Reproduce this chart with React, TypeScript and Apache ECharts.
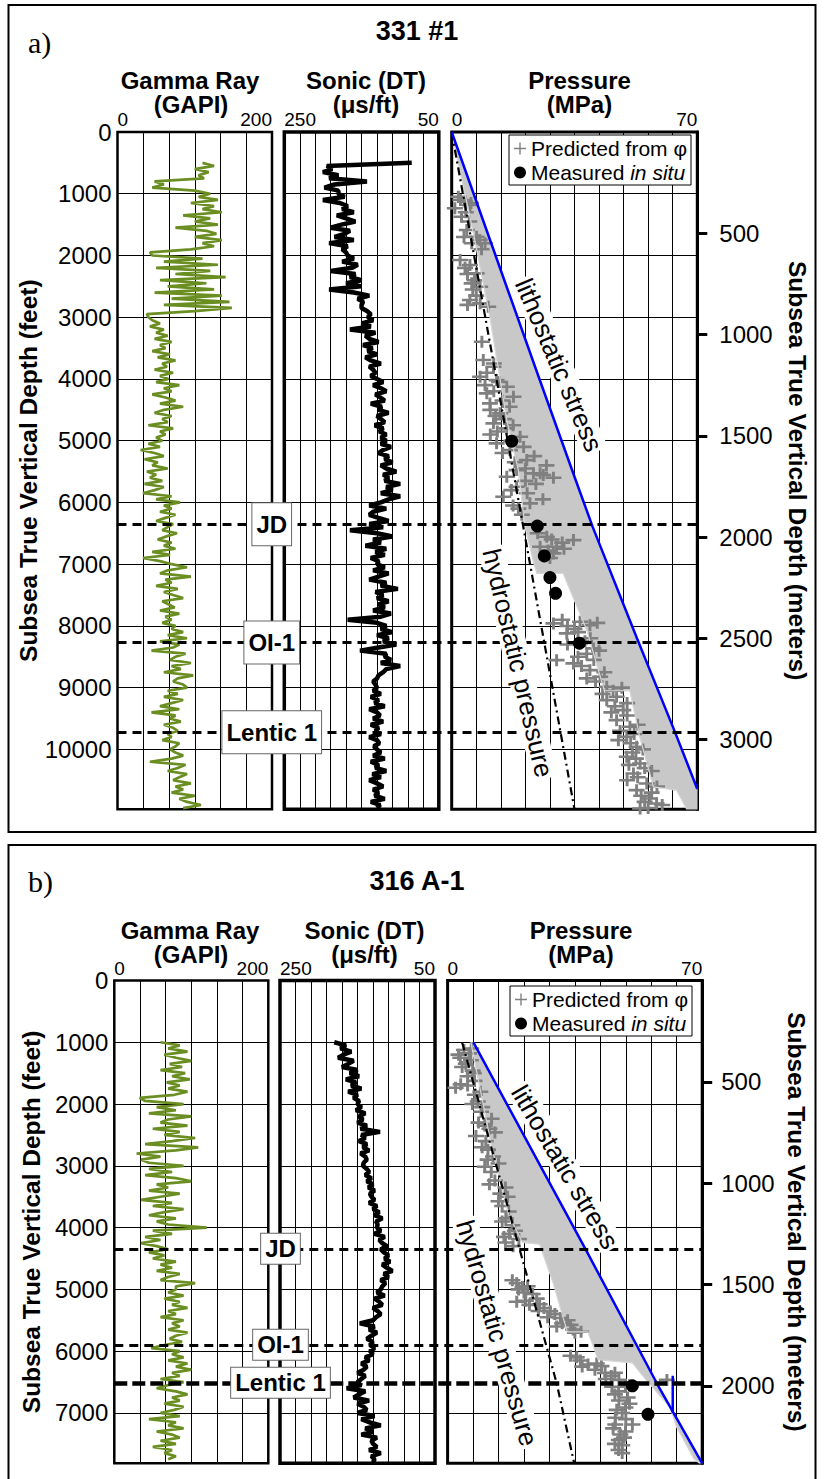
import React, { useEffect, useRef } from "react";
import * as echarts from "echarts";

const FONT = '"Liberation Sans", Arial, Helvetica, sans-serif';
const SERIF = '"Liberation Serif", "Times New Roman", serif';

// ---------------- shared axis values ----------------
const GAMMA_RANGE = [0, 200];
const SONIC_RANGE = [50, 250];
const PRESSURE_RANGE = [0, 70];
const SONIC_GRID = [50, 70, 90, 110, 130, 150, 170, 190, 210, 230, 250];
const FORMATIONS = ["JD", "OI-1", "Lentic 1"];
const PRED_NAME = "Predicted from φ";
const MEAS_NAME = "Measured in situ";
const FT_PER_M = 3.28084;
const LOG_STEP = 50;

// ---------------- well a) 331 #1 ----------------
const A_TITLE = "331 #1";
const A_MAX_DEPTH = 10970;
const A_METER_TICKS = [500, 1000, 1500, 2000, 2500, 3000];
const A_GAMMA_START = 500;
const A_GAMMA = [
  110, 125, 100, 118, 105, 112,
  48, 60, 45, 100,
  120, 105, 130, 95, 125, 110, 135, 85, 120, 100, 130, 75, 115, 128, 100, 135, 110, 125, 95,
  42, 45,
  110, 60, 130, 50, 120, 75, 140, 55, 115, 65,
  125, 48, 135, 70, 145, 60, 148, 100,
  38,
  40, 45, 55, 42, 60, 50, 65, 48, 70, 55, 62, 45, 68, 52, 75, 58, 64, 48, 72, 55,
  66, 50, 80, 60, 70, 45, 62, 75, 55, 85, 60, 48, 70, 58, 65, 40, 72, 55, 62, 50, 58,
  40, 55, 30, 48, 60, 35, 52, 45, 65, 38, 50, 42, 58, 35, 60, 48,
  33, 70, 50, 81,
  60, 70, 55, 75, 62, 50, 72, 65, 58, 77, 63, 52, 70, 60, 75, 45, 68, 33, 55, 70,
  90, 65, 55, 95, 62, 70, 50, 78, 60, 72, 85, 58, 66, 74, 55, 80, 62, 70, 58, 75,
  70, 85, 65, 90, 55, 80, 72, 44, 88, 75, 68, 95, 70, 82, 60, 98, 78, 72, 85, 90,
  65, 78, 60, 85, 70, 55, 80, 44, 75, 68, 82, 60, 72, 78, 65, 70, 58, 80, 75, 68,
  75, 85, 70, 42, 88, 78, 65, 90, 80, 72, 95, 75, 85, 70, 100, 80, 90, 108, 85,
];
const A_SONIC_START = 500;
const A_SONIC = [
  85, 195, 188, 200, 180, 192, 143, 185, 198, 180,
  180, 172, 200, 178, 168, 175, 160, 182, 170, 158, 176, 190, 165, 172, 185, 160, 192, 168, 175, 170,
  168, 160, 175, 155, 162, 190, 158, 165, 150, 170,
  150, 192, 160, 140, 155, 148, 150, 150, 143, 138,
  142, 135, 150, 138, 165, 132, 145, 140, 128, 148, 136, 142, 130, 145, 138, 125, 140, 135, 132, 138,
  130, 122, 135, 125, 118, 132, 126, 120, 138, 124, 128, 115, 130, 125, 120, 133, 122, 127, 118, 125,
  118, 125, 112, 122, 128, 115, 120, 110, 125, 118, 105, 122, 115, 120, 100, 118,
  110, 125, 100, 115,
  125, 140, 118, 135, 140, 128, 115, 140, 122, 165, 130, 110, 135, 125, 145, 118, 132, 120, 138, 128,
  130, 120, 135, 115, 128, 140, 118, 125, 103, 132, 122, 130, 115, 128, 120, 135, 112, 125, 168, 130,
  118, 125, 110, 130, 115, 122, 105, 128, 152, 118, 120, 112, 125, 100, 118, 122, 128, 130, 135, 132,
  130, 135, 125, 138, 128, 133, 120, 140, 130, 126, 135, 122, 138, 128, 132, 125, 140, 130, 127, 134,
  130, 125, 135, 120, 138, 128, 132, 118, 136, 125, 140, 130, 122, 135, 128, 133, 120, 138, 126, 130,
];
// [depth ft, MPa]
const A_LITHO = [[0, 0], [2000, 12.5], [4000, 25.0], [5600, 35.1], [6400, 40.2], [8200, 52.8], [9700, 63.5], [10640, 70]];
const A_HYDRO = [[0, 0], [10970, 35.0]];
const A_BAND_INNER = [
  [0, 0], [130, 0.5], [1641, 6.2], [2992, 10.9], [4666, 15.7], [5476, 19.0], [6394, 20.9], [7042, 23.7],
  [7150, 24.3], [7150, 31.8], [8068, 38.5], [8986, 43.2], [9050, 43.5], [9050, 50.8], [9796, 53.6],
  [10606, 57.5], [10660, 64.1], [10970, 67],
];
const A_BAND_CORNER = [[10970, 70]];
const A_PRED = [
  [1048, 1.9], [1129, 3.8], [1236, 0.9], [1183, 5.2], [1372, 2.8], [1588, 4.3], [1696, 7.1], [1803, 9.5],
  [1803, 5.7], [2074, 2.4], [2155, 5.2], [2289, 7.1], [2451, 5.7], [2506, 8.1], [2722, 5.2], [2775, 8.1],
  [2830, 10.4], [3397, 8.6], [3694, 9.0], [3802, 11.9], [3964, 8.1], [4018, 12.8], [4126, 15.7], [4233, 10.0],
  [4288, 17.6], [4396, 10.9], [4557, 13.8], [4719, 11.9], [4800, 15.7], [4936, 19.5], [5043, 12.8], [5152, 16.6],
  [5314, 21.4], [5529, 25.2], [5476, 18.5], [5584, 15.7], [5529, 23.3], [5557, 26.1], [5908, 14.7], [6015, 22.3],
  [5746, 18.5], [6556, 27.1], [6718, 29.9], [6610, 34.7], [6718, 25.2], [6825, 29.0], [7959, 29.0], [7933, 36.6],
  [8121, 32.8], [7987, 39.4], [8283, 36.6], [8364, 40.4], [8554, 29.9], [8607, 34.7], [8716, 39.4], [8824, 42.3],
  [8986, 44.2], [9148, 47.0], [9202, 44.2], [9364, 48.9], [9526, 47.0], [9634, 50.8], [9796, 49.9], [9958, 52.7],
  [10120, 49.9], [10227, 53.7], [10389, 51.8], [10551, 55.6], [10660, 52.7], [10794, 56.5], [10956, 53.7], [10875, 58.4],
  [1100, 2.5], [1300, 4.0], [1750, 8.0], [1700, 3.5], [2200, 3.8], [2400, 6.5], [2650, 7.0], [2800, 4.5],
  [3900, 10.0], [4100, 9.5], [4350, 14.5], [4500, 11.0], [4650, 15.0], [4850, 13.0], [5000, 17.0], [5200, 14.5],
  [5350, 18.0], [5650, 21.0], [5800, 17.0], [6100, 19.0], [6650, 31.5], [6780, 27.5], [8000, 33.0], [8050, 35.0],
  [8250, 38.0], [8450, 38.5], [8650, 37.0], [8900, 41.0], [9050, 46.0], [9300, 46.5], [9450, 50.0], [9700, 48.0],
  [9900, 51.0], [10050, 51.5], [10300, 55.0], [10450, 53.0], [10700, 57.0], [10850, 55.0],
  [5100, 20.5], [5250, 23.5], [5400, 27.0], [5450, 21.0], [5600, 29.0], [5700, 24.0], [5850, 21.5], [5950, 26.0],
  [6050, 17.5], [6200, 20.0], [6500, 24.5], [6600, 28.5], [6750, 32.0], [6900, 28.0], [7900, 31.5], [7950, 41.5],
  [8100, 36.0], [8200, 39.5], [8300, 33.0], [8400, 42.0], [8500, 36.0], [8550, 40.5], [8750, 43.5], [8850, 38.5],
  [9000, 48.5], [9100, 43.0], [9250, 50.0], [9400, 45.5], [9600, 53.0], [9750, 52.0], [9850, 47.5], [10000, 54.5],
  [10150, 52.5], [10250, 50.5], [10350, 57.0], [10500, 50.0], [10600, 58.5], [10750, 54.0], [10900, 60.0], [10950, 56.0],
  [1150, 5.5], [1450, 5.0], [1900, 8.5], [2300, 4.5], [2550, 6.0], [3750, 12.0], [4050, 13.5], [4200, 12.0],
  [4450, 16.5], [4600, 12.5], [4750, 17.5], [4900, 11.0],
];
const A_MEAS = [[5008, 17.1], [6382, 24.4], [6867, 26.4], [7217, 28.0], [7471, 29.6], [8280, 36.4]];
const A_FORMATION_DEPTHS = [6355, 8268, 9724];

// ---------------- well b) 316 A-1 ----------------
const B_TITLE = "316 A-1";
const B_MAX_DEPTH = 7815;
const B_METER_TICKS = [500, 1000, 1500, 2000];
const B_GAMMA_START = 1000;
const B_GAMMA = [
  60, 85, 70, 95, 65, 80, 100, 72, 88, 60, 92, 75, 98, 68, 85, 70, 95, 78,
  33, 40,
  90, 55, 80, 45, 100, 70, 60, 95, 50, 85, 65, 105, 75, 40, 109, 80,
  29, 60, 35, 45,
  90, 45, 75, 40, 80, 100, 55, 70, 45, 85, 60, 35, 75, 50, 90, 65, 45, 80, 55, 70,
  120,
  50, 75, 40, 60, 35, 55, 70, 45, 65, 50, 80, 60, 75, 55, 85, 70, 60, 105, 80,
  80, 70, 90, 65, 85, 75, 95, 70, 80, 60, 90, 75, 85, 70, 95, 80, 72, 88, 65, 48,
  85, 75, 90, 70, 95, 80, 100, 75, 85, 60, 90, 70, 55, 80, 95, 75, 85, 65, 90, 78,
  60, 85, 45, 80, 70, 90, 55, 75, 85, 60, 80, 50, 75, 65, 80, 70,
];
const B_SONIC_START = 1000;
const B_SONIC = [
  180, 165, 172, 158, 168, 175, 155, 162, 170, 150,
  160, 148, 165, 152, 158, 145, 162, 150, 155, 148,
  150, 145, 152, 140, 148, 143, 150, 138, 146, 121,
  145, 140, 148, 138, 143, 135, 146, 140, 138, 142,
  143, 138, 135, 140, 132, 138, 130, 136, 128, 134,
  132, 128, 135, 125, 130, 122, 128, 118, 126, 124,
  125, 120, 128, 115, 122, 118, 112, 120, 116, 110,
  115, 108, 118, 112, 105, 116, 110, 120, 114, 118,
  120, 125, 115, 128, 122, 118, 130, 124, 120, 126,
  130, 147, 128, 135, 125, 132, 138, 130, 134, 128,
  134, 130, 140, 135, 145, 138, 142, 150, 140, 145,
  150, 145, 164, 140, 148, 155, 135, 150, 142, 138,
  150, 128, 145, 135, 120, 140, 130, 145, 125, 132,
  130, 125, 135, 120, 132, 128, 130,
];
const B_LITHO = [[1003, 7.1], [4368, 38.1], [6560, 57.9], [7815, 70]];
const B_LITHO_SPIKE = [[6399, 61.9], [6994, 61.9]];
const B_HYDRO = [[1003, 4.0], [4351, 19.8], [6521, 30.0], [7815, 34.8]];
const B_BAND_INNER = [
  [1003, 6.4], [2683, 12.1], [3795, 16.8], [4240, 20.6], [4268, 25.3], [4907, 29.1], [5687, 32.9],
  [5687, 38.6], [6136, 41.4], [6188, 50.8], [6465, 54.6], [6911, 61.2], [7244, 63.1], [7745, 67.8], [7815, 69.3],
];
const B_BAND_CORNER: number[][] = [];
const B_PRED = [
  [1180, 5.9], [1347, 5.0], [1459, 6.9], [1681, 3.6], [1737, 2.2], [1625, 7.4], [1959, 8.3], [2349, 10.2],
  [2459, 13.0], [2516, 7.8], [2738, 11.1], [2962, 14.0], [3016, 10.2], [3238, 13.0], [3350, 15.9], [3573, 14.0],
  [3740, 16.8], [3962, 17.8], [4240, 15.9], [4185, 19.6], [4852, 17.8], [4963, 20.6], [5074, 23.4], [5185, 21.5],
  [5241, 25.3], [5352, 28.2], [5463, 31.0], [5575, 33.8], [5686, 36.7], [6075, 33.8], [6215, 38.6], [6242, 42.3],
  [6353, 43.3], [6465, 47.1], [6576, 48.9], [6576, 45.2], [6799, 47.1], [6911, 48.9], [7078, 46.1], [7188, 50.8],
  [7188, 46.1], [7300, 48.9], [7439, 47.1], [7523, 48.0], [6465, 60.3], [1125, 4.5], [1292, 6.4], [2125, 9.2],
  [2237, 12.1], [1250, 3.5], [1550, 5.5], [1850, 7.5], [2050, 9.5], [2600, 10.5], [2850, 12.5], [3100, 12.0],
  [3450, 14.5], [3850, 16.0], [4100, 17.0], [4950, 22.0], [5000, 19.5], [5300, 26.5], [5400, 29.5], [5550, 31.5],
  [5650, 34.5], [6150, 36.5], [6300, 40.5], [6400, 45.0], [6700, 46.0], [6850, 50.0], [7000, 48.0], [7350, 47.5],
  [7600, 47.0],
  [1100, 6.5], [1200, 3.0], [1400, 4.0], [1500, 7.2], [1700, 5.5], [1800, 9.0], [2000, 6.8], [2300, 8.5],
  [2400, 11.5], [2700, 9.5], [2900, 11.0], [3300, 11.5], [3500, 16.5], [3650, 15.0], [3900, 15.0], [4050, 18.5],
  [4150, 15.5], [4300, 18.0], [4900, 19.0], [5050, 21.0], [5150, 24.5], [5200, 19.0], [5250, 22.5], [5350, 25.0],
  [5450, 27.5], [5500, 33.0], [5600, 30.0], [5700, 35.0], [6100, 35.5], [6200, 41.0], [6250, 37.0], [6350, 46.0],
  [6450, 43.5], [6550, 50.0], [6650, 47.0], [6750, 49.5], [6950, 46.5], [7100, 49.0], [7250, 45.5], [7400, 48.5],
  [7500, 46.0], [7650, 48.0],
];
const B_MEAS = [[6560, 50.8], [7022, 55.1]];
const B_FORMATION_DEPTHS = [4344, 5898, 6513];

const PLUS = "path://M0,4.7H12V7.3H0Z M4.9,0H7.1V12H4.9Z";
const PLUS_ICON = "path://M0,5.3H12V6.7H0Z M5.3,0H6.7V12H5.3Z";

type Well = {
  title: string; maxDepth: number; meterTicks: number[];
  gammaStart: number; gamma: number[]; sonicStart: number; sonic: number[];
  litho: number[][]; lithoSpike?: number[][]; hydro: number[][];
  bandInner: number[][]; bandCorner: number[][];
  pred: number[][]; meas: number[][]; formations: number[];
};

const WELLS: Well[] = [
  { title: A_TITLE, maxDepth: A_MAX_DEPTH, meterTicks: A_METER_TICKS, gammaStart: A_GAMMA_START, gamma: A_GAMMA,
    sonicStart: A_SONIC_START, sonic: A_SONIC, litho: A_LITHO, hydro: A_HYDRO, bandInner: A_BAND_INNER,
    bandCorner: A_BAND_CORNER, pred: A_PRED, meas: A_MEAS, formations: A_FORMATION_DEPTHS },
  { title: B_TITLE, maxDepth: B_MAX_DEPTH, meterTicks: B_METER_TICKS, gammaStart: B_GAMMA_START, gamma: B_GAMMA,
    sonicStart: B_SONIC_START, sonic: B_SONIC, litho: B_LITHO, lithoSpike: B_LITHO_SPIKE, hydro: B_HYDRO,
    bandInner: B_BAND_INNER, bandCorner: B_BAND_CORNER, pred: B_PRED, meas: B_MEAS, formations: B_FORMATION_DEPTHS },
];

// layout (pixels)
const LAYOUT = [
  { top: 132, height: 677.3, gamma: [117.5, 154.5], sonic: [284.3, 154.5], pres: [451.7, 245.6],
    dy: 0, letter: "a)", letterY: 42, titleY: 31, hdrX: [190, 366, 579.5], legend: [509, 135],
    labelX: 0.266, labelPad: [9, 4], meterMargin: 22, leftGap: 70, rightGap: 88,
    litho: { x: 559, y: 365, a: -67 }, hydro: { x: 518, y: 663, a: -76.7 },
    lentic: { w: 3, dash: [9, 6] } },
  { top: 980.5, height: 482.8, gamma: [114.3, 154], sonic: [280, 155], pres: [447.6, 254.6],
    dy: 850, letter: "b)", letterY: 881, titleY: 880.5, hdrX: [190, 364.5, 581], legend: [510, 986],
    labelX: 0.2827, labelPad: [3, 4], meterMargin: 19, leftGap: 70, rightGap: 82,
    litho: { x: 565, y: 1167, a: -59.4 }, hydro: { x: 497, y: 1333, a: -73.8 },
    lentic: { w: 4.5, dash: [13, 5] } },
];

const edgeLabel = (lo: number, hi: number) => (v: number) =>
  Math.abs(v - lo) < 0.01 ? String(lo) : Math.abs(v - hi) < 0.01 ? String(hi) : "";

function buildOption() {
  const grid: any[] = [], xAxis: any[] = [], yAxis: any[] = [], series: any[] = [], graphic: any[] = [];
  const meterAxes: any[] = [];

  WELLS.forEach((w, k) => {
    const L = LAYOUT[k];
    const gi = k * 4;
    const boxes = [
      { p: L.gamma, bw: 2.5 }, { p: L.sonic, bw: 3.5 }, { p: L.pres, bw: 3 },
    ];
    boxes.forEach((b) => grid.push({ left: b.p[0], top: L.top, width: b.p[1], height: L.height, show: true,
      borderColor: "#000", borderWidth: b.bw, backgroundColor: "transparent" }));
    grid.push({ left: L.gamma[0], top: L.top, width: L.pres[0] + L.pres[1] - L.gamma[0], height: L.height, show: false });

    const topLabel = { fontSize: 19, color: "#000", fontFamily: FONT, margin: 3 };
    const split = { show: true, lineStyle: { color: "#000", width: 1 } };
    xAxis.push({ gridIndex: gi, type: "value", position: "top", min: GAMMA_RANGE[0], max: GAMMA_RANGE[1],
      interval: (GAMMA_RANGE[1] - GAMMA_RANGE[0]) / 6, axisLine: { show: false }, axisTick: { show: false }, splitLine: split,
      axisLabel: { ...topLabel, formatter: edgeLabel(GAMMA_RANGE[0], GAMMA_RANGE[1]), alignMinLabel: "left", alignMaxLabel: "right" } });
    xAxis.push({ gridIndex: gi + 1, type: "value", position: "top", min: SONIC_RANGE[0], max: SONIC_RANGE[1], inverse: true,
      axisLine: { show: false }, axisTick: { show: false }, splitLine: { show: false },
      axisLabel: { ...topLabel, formatter: edgeLabel(SONIC_RANGE[0], SONIC_RANGE[1]), alignMinLabel: "right", alignMaxLabel: "left" } });
    xAxis.push({ gridIndex: gi + 2, type: "value", position: "top", min: PRESSURE_RANGE[0], max: PRESSURE_RANGE[1],
      interval: 7, axisLine: { show: false }, axisTick: { show: false }, splitLine: split,
      axisLabel: { ...topLabel, formatter: edgeLabel(PRESSURE_RANGE[0], PRESSURE_RANGE[1]), alignMinLabel: "left", alignMaxLabel: "right" } });
    xAxis.push({ gridIndex: gi + 3, type: "value", min: 0, max: 1, show: false });

    for (let j = 0; j < 3; j++) {
      yAxis.push({ gridIndex: gi + j, type: "value", inverse: true, min: 0, max: w.maxDepth, interval: 1000,
        axisLine: { show: false }, axisTick: { show: false }, splitLine: split,
        axisLabel: j === 0 ? { show: true, fontSize: 24, color: "#000", fontFamily: FONT, margin: 6, padding: [10, 0, 0, 0],
          formatter: (v: number) => (v % 1000 === 0 ? String(v) : "") } : { show: false },
        ...(j === 0 ? { name: "Subsea True Vertical Depth (feet)", nameLocation: "middle", nameGap: L.leftGap,
          nameTextStyle: { fontSize: 24.5, fontWeight: "bold", fontFamily: FONT, color: "#000" } } : {}) });
    }
    yAxis.push({ gridIndex: gi + 3, type: "value", inverse: true, min: 0, max: w.maxDepth, show: false });
    meterAxes.push({ gridIndex: gi + 2, type: "value", position: "right", inverse: true, min: 0, max: w.maxDepth / FT_PER_M,
      interval: 500, splitLine: { show: false },
      axisLine: { show: true, lineStyle: { color: "#000", width: 3 } },
      axisTick: { show: true, length: 10, lineStyle: { color: "#000", width: 3 }, customValues: w.meterTicks },
      axisLabel: { fontSize: 24, color: "#000", fontFamily: FONT, margin: L.meterMargin, padding: [10, 0, 0, 0],
        customValues: w.meterTicks, formatter: (v: number) => (v > 0 && Math.abs(v % 500) < 0.01 ? String(Math.round(v)) : "") },
      name: "Subsea True Vertical Depth (meters)", nameLocation: "middle", nameRotate: -90, nameGap: L.rightGap,
      nameTextStyle: { fontSize: 24.5, fontWeight: "bold", fontFamily: FONT, color: "#000" } });

    // logs
    series.push({ type: "line", xAxisIndex: gi, yAxisIndex: gi, silent: true, symbol: "none", z: 3,
      data: w.gamma.map((v, i) => [v, w.gammaStart + i * LOG_STEP]), lineStyle: { color: "#6b8e23", width: 2.7 } });
    series.push({ type: "line", xAxisIndex: gi + 1, yAxisIndex: gi + 1, silent: true, symbol: "none", z: 3,
      data: w.sonic.map((v, i) => [v, w.sonicStart + i * LOG_STEP]), lineStyle: { color: "#000", width: 4.5 },
      markLine: { silent: true, symbol: "none", label: { show: false }, animation: false,
        lineStyle: { color: "#000", width: 1, type: "solid" },
        data: SONIC_GRID.map((v) => ({ xAxis: v })) } });
    // pressure panel
    const band = w.bandInner.concat(w.bandCorner, w.litho.slice().reverse());
    series.push({ type: "custom", xAxisIndex: gi + 2, yAxisIndex: gi + 2, silent: true, z: 1, data: [[0, 0]],
      renderItem: (_p: any, api: any) => ({ type: "polygon",
        shape: { points: band.map(([d, p]) => api.coord([p, d])) },
        style: { fill: "#c8c8c8", stroke: "#bcbcbc", lineWidth: 0.5 } }) });
    series.push({ type: "scatter", name: PRED_NAME, xAxisIndex: gi + 2, yAxisIndex: gi + 2, silent: true, z: 2,
      symbol: PLUS, symbolSize: [16, 12], itemStyle: { color: "#808080", opacity: 1 }, data: w.pred.map(([d, p]) => [p, d]) });
    series.push({ type: "line", xAxisIndex: gi + 2, yAxisIndex: gi + 2, silent: true, symbol: "none", z: 3,
      data: w.bandInner.map(([d, p]) => [p, d]), lineStyle: { color: "#d6d6d6", width: 1.2 } });
    series.push({ type: "line", xAxisIndex: gi + 2, yAxisIndex: gi + 2, silent: true, symbol: "none", z: 4,
      data: w.hydro.map(([d, p]) => [p, d]), lineStyle: { color: "#000", width: 2.2, type: [8, 4, 2, 4] } });
    series.push({ type: "line", xAxisIndex: gi + 2, yAxisIndex: gi + 2, silent: true, symbol: "none", z: 4,
      data: w.litho.map(([d, p]) => [p, d]), lineStyle: { color: "#0000ff", width: 2.5 } });
    if (w.lithoSpike) series.push({ type: "line", xAxisIndex: gi + 2, yAxisIndex: gi + 2, silent: true, symbol: "none", z: 4,
      data: w.lithoSpike.map(([d, p]) => [p, d]), lineStyle: { color: "#0000ff", width: 2.5 } });
    series.push({ type: "scatter", name: MEAS_NAME, xAxisIndex: gi + 2, yAxisIndex: gi + 2, silent: true, z: 5,
      symbol: "circle", symbolSize: 13, itemStyle: { color: "#000", opacity: 1 }, data: w.meas.map(([d, p]) => [p, d]) });
    // formation tops
    series.push({ type: "lines", coordinateSystem: "cartesian2d", xAxisIndex: gi + 3, yAxisIndex: gi + 3, silent: true, z: 6,
      data: w.formations.map((d, i) => ({ coords: [[0, d], [1, d]],
        lineStyle: i === 2 ? { width: L.lentic.w, type: L.lentic.dash } : {} })),
      lineStyle: { color: "#000", width: 3, type: [9, 6], opacity: 1 } });
    series.push({ type: "scatter", xAxisIndex: gi + 3, yAxisIndex: gi + 3, silent: true, z: 7, symbolSize: 1,
      itemStyle: { color: "rgba(0,0,0,0)", opacity: 1 },
      data: FORMATIONS.map((n, i) => ({ name: n, value: [L.labelX, w.formations[i]] })),
      label: { show: true, position: "inside", formatter: "{b}", color: "#000", fontFamily: FONT, fontWeight: "bold",
        fontSize: 24, backgroundColor: "#fff", borderColor: "#666", borderWidth: 1, padding: L.labelPad, opacity: 1 } });

    // texts
    const t = (text: string, x: number, y: number, size: number, weight = "bold", family = FONT, align = "center") => ({
      type: "text", x, y, z: 50, silent: true,
      style: { text, fill: "#000", fontSize: size, fontWeight: weight, fontFamily: family, align, verticalAlign: "middle" } });
    graphic.push(t(w.title, 417, L.titleY, 27));
    graphic.push(t(L.letter, 28, L.letterY, 30, "normal", SERIF, "left"));
    graphic.push(t("Gamma Ray", L.hdrX[0], 80 + L.dy, 24));
    graphic.push(t("(GAPI)", L.hdrX[0] + 1, 104.5 + L.dy, 24));
    graphic.push(t("Sonic (DT)", L.hdrX[1], 80 + L.dy, 24));
    graphic.push(t("(μs/ft)", L.hdrX[1], 104.5 + L.dy, 24));
    graphic.push(t("Pressure", L.hdrX[2], 80 + L.dy, 24));
    graphic.push(t("(MPa)", L.hdrX[2], 104.5 + L.dy, 24));
    const rot = (text: string, c: any) => ({ type: "text", x: c.x, y: c.y, rotation: (c.a * Math.PI) / 180, z: 60, silent: true,
      style: { text, fill: "#000", fontSize: 26, fontFamily: FONT, align: "center", verticalAlign: "middle",
        backgroundColor: "#fff", padding: [0, 2] } });
    graphic.push(rot("lithostatic stress", L.litho));
    graphic.push(rot("hydrostatic pressure", L.hydro));
  });

  graphic.push({ type: "rect", z: 40, silent: true, shape: { x: 8.5, y: 5, width: 807, height: 827 },
    style: { fill: "none", stroke: "#000", lineWidth: 2 } });
  graphic.push({ type: "rect", z: 40, silent: true, shape: { x: 8.5, y: 845, width: 807, height: 660 },
    style: { fill: "none", stroke: "#000", lineWidth: 2 } });

  const legend = LAYOUT.map((L) => ({
    left: L.legend[0], top: L.legend[1], orient: "vertical", itemGap: 3, itemWidth: 12, itemHeight: 12,
    padding: [3, 4, 2, 5], borderColor: "#000", borderWidth: 1, backgroundColor: "#fff", selectedMode: false, z: 20,
    data: [{ name: PRED_NAME, icon: PLUS_ICON }, { name: MEAS_NAME, icon: "circle" }],
    formatter: (n: string) => (n === MEAS_NAME ? "Measured {i|in situ}" : n),
    textStyle: { fontFamily: FONT, fontSize: 21, color: "#000",
      rich: { i: { fontFamily: FONT, fontSize: 21, fontStyle: "italic", color: "#000" } } },
  }));

  return {
    animation: false,
    backgroundColor: "#fff",
    grid, xAxis, yAxis: yAxis.concat(meterAxes), series, graphic, legend,
  };
}

export default function App() {
  const ref = useRef<HTMLDivElement>(null);
  useEffect(() => {
    const chart = echarts.init(ref.current as HTMLDivElement, null, { renderer: "svg", width: 824, height: 1479 });
    chart.setOption(buildOption() as any);
    return () => chart.dispose();
  }, []);
  return <div ref={ref} style={{ position: "absolute", left: 0, top: 0, width: 824, height: 1479, background: "#fff" }} />;
}
